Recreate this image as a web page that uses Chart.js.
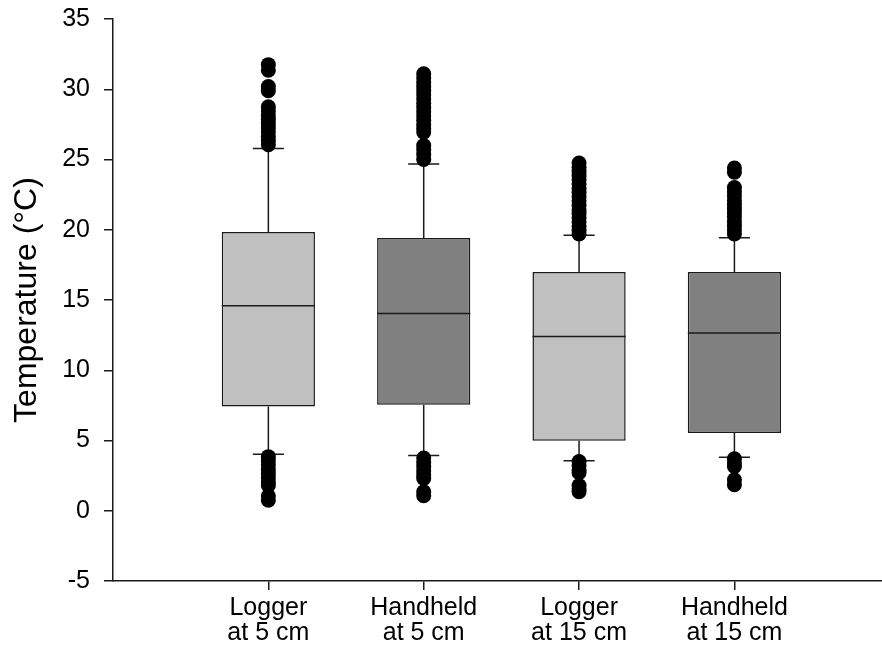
<!DOCTYPE html>
<html>
<head>
<meta charset="utf-8">
<script src="https://cdn.jsdelivr.net/npm/chart.js@4.4.0/dist/chart.umd.min.js"></script>
<style>
  html, body { margin: 0; padding: 0; background: #fff; }
</style>
</head>
<body>
<canvas id="chart" width="882" height="655"></canvas>
<script>
// groups along the x axis (two-line labels)
const groupLabels = [
    ['Logger', 'at 5 cm'],
    ['Handheld', 'at 5 cm'],
    ['Logger', 'at 15 cm'],
    ['Handheld', 'at 15 cm']
];
const groupPos = [1, 2, 3, 4];
const boxColors = ['#c0c0c0', '#808080', '#c0c0c0', '#808080'];

// box statistics, degrees C
const q1 = [7.42, 7.54, 4.98, 5.53];
const medians = [14.59, 14.04, 12.41, 12.65];
const q3 = [19.84, 19.41, 16.99, 17.0];
const whiskerLow = [4.03, 3.93, 3.56, 3.8];
const whiskerHigh = [25.79, 24.68, 19.6, 19.43];

// points beyond the whiskers
const outliersHigh = [
    [31.75, 31.35, 30.2, 29.9, 28.75, 28.45, 28.15, 27.85, 27.55, 27.25, 26.95, 26.65, 26.35, 26.05],
    [31.1, 30.8, 30.5, 30.2, 29.9, 29.6, 29.3, 29.0, 28.7, 28.4, 28.1, 27.8, 27.5, 27.2, 26.95, 26.0, 25.7, 25.35, 25.0],
    [24.75, 24.45, 24.15, 23.85, 23.55, 23.25, 22.95, 22.65, 22.35, 22.05, 21.75, 21.45, 21.15, 20.85, 20.55, 20.25, 19.95, 19.7],
    [24.4, 24.1, 23.0, 22.7, 22.4, 22.1, 21.8, 21.5, 21.2, 20.9, 20.6, 20.3, 20.0, 19.7]
];
const outliersLow = [
    [3.85, 3.55, 3.25, 2.95, 2.65, 2.35, 2.05, 1.8, 1.05, 0.75],
    [3.75, 3.45, 3.15, 2.85, 2.55, 2.3, 1.35, 1.07],
    [3.5, 3.2, 2.9, 2.7, 1.8, 1.55, 1.35],
    [3.7, 3.4, 3.15, 2.2, 1.85]
];

const yMin = -5;
const yMax = 35;
const yStep = 5;

const FONT = '"Liberation Sans", Arial, sans-serif';
const INK = '#1a1a1a';
const BOX_HALF = 0.3;
const CAP_HALF = 0.1;

const outlierPoints = [];
groupPos.forEach((p, i) => {
    outliersHigh[i].concat(outliersLow[i]).forEach(v => outlierPoints.push({ x: p, y: v }));
});

// whiskers under the outlier dots, medians on top of the boxes
const boxPlotLines = {
    id: 'boxPlotLines',
    beforeDatasetsDraw(chart) {
        const { ctx, scales: { x, y } } = chart;
        ctx.save();
        ctx.strokeStyle = INK;
        ctx.lineWidth = 1.5;
        groupPos.forEach((p, i) => {
            const cx = x.getPixelForValue(p);
            const l = x.getPixelForValue(p - CAP_HALF);
            const r = x.getPixelForValue(p + CAP_HALF);
            ctx.beginPath();
            ctx.moveTo(cx, y.getPixelForValue(q3[i]));
            ctx.lineTo(cx, y.getPixelForValue(whiskerHigh[i]));
            ctx.moveTo(cx, y.getPixelForValue(q1[i]));
            ctx.lineTo(cx, y.getPixelForValue(whiskerLow[i]));
            ctx.moveTo(l, y.getPixelForValue(whiskerHigh[i]));
            ctx.lineTo(r, y.getPixelForValue(whiskerHigh[i]));
            ctx.moveTo(l, y.getPixelForValue(whiskerLow[i]));
            ctx.lineTo(r, y.getPixelForValue(whiskerLow[i]));
            ctx.stroke();
        });
        ctx.restore();
    },
    afterDatasetsDraw(chart) {
        const { ctx, scales: { x, y } } = chart;
        ctx.save();
        ctx.strokeStyle = INK;
        ctx.lineWidth = 1.5;
        groupPos.forEach((p, i) => {
            const my = y.getPixelForValue(medians[i]);
            ctx.beginPath();
            ctx.moveTo(x.getPixelForValue(p - BOX_HALF), my);
            ctx.lineTo(x.getPixelForValue(p + BOX_HALF), my);
            ctx.stroke();
        });
        ctx.restore();
    }
};

new Chart(document.getElementById('chart'), {
    type: 'bar',
    data: {
        datasets: [{
            type: 'bar',
            data: groupPos.map((p, i) => ({ x: p, y: [q1[i], q3[i]] })),
            backgroundColor: boxColors,
            borderColor: INK,
            borderWidth: 1.5,
            borderSkipped: false,
            barPercentage: BOX_HALF * 2,
            categoryPercentage: 1,
            order: 2
        }, {
            type: 'scatter',
            data: outlierPoints,
            pointRadius: 7.5,
            pointBackgroundColor: '#000',
            pointBorderColor: '#000',
            pointBorderWidth: 0,
            order: 1
        }]
    },
    options: {
        responsive: false,
        animation: false,
        devicePixelRatio: 1,
        layout: { autoPadding: false, padding: { top: 19, right: 0, left: 0, bottom: 0 } },
        plugins: {
            legend: { display: false },
            tooltip: { enabled: false }
        },
        scales: {
            x: {
                type: 'linear',
                offset: false,
                min: 0,
                max: 4.95,
                afterBuildTicks: scale => { scale.ticks = groupPos.map(v => ({ value: v })); },
                afterFit: scale => {
                    scale.height = 74;
                    scale.paddingLeft = 0;
                    scale.paddingRight = 0;
                },
                ticks: {
                    autoSkip: false,
                    maxRotation: 0,
                    padding: 6,
                    color: '#000',
                    font: { family: FONT, size: 25, lineHeight: 1.0 },
                    callback: v => groupLabels[groupPos.indexOf(v)]
                },
                grid: { offset: false, drawOnChartArea: false, drawTicks: true, tickLength: 9, color: INK, lineWidth: 1.5 },
                border: { display: true, color: INK, width: 1.5 }
            },
            y: {
                min: yMin,
                max: yMax,
                afterFit: scale => {
                    scale.width = 113;
                    scale.paddingTop = 0;
                    scale.paddingBottom = 0;
                },
                ticks: {
                    stepSize: yStep,
                    padding: 14,
                    color: '#000',
                    font: { family: FONT, size: 25 }
                },
                grid: { drawOnChartArea: false, drawTicks: true, tickLength: 9, color: INK, lineWidth: 1.5 },
                border: { display: true, color: INK, width: 1.5 },
                title: {
                    display: true,
                    text: 'Temperature (°C)',
                    color: '#000',
                    font: { family: FONT, size: 32 },
                    padding: { top: 8, bottom: 0 }
                }
            }
        }
    },
    plugins: [boxPlotLines]
});
</script>
</body>
</html>
